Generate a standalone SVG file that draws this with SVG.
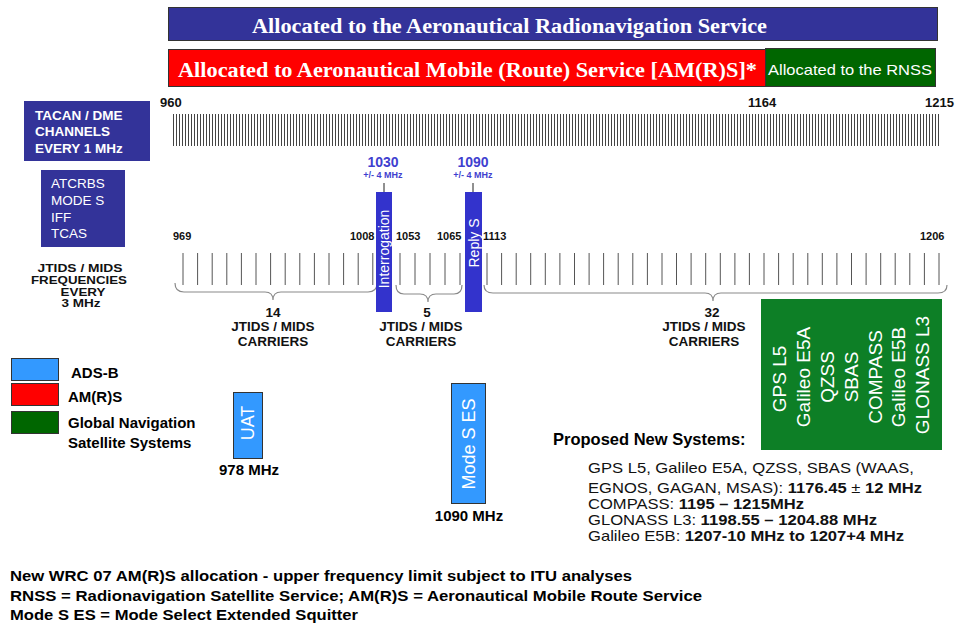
<svg xmlns="http://www.w3.org/2000/svg" width="956" height="627" viewBox="0 0 956 627">
<style>
text{font-family:"Liberation Sans",Arial,sans-serif;}
.serif{font-family:"Liberation Serif","Times New Roman",serif;font-weight:bold;font-size:20px;fill:#fff;}
.b{font-weight:bold;}
.wt{fill:#fff;}
.lbl{font-weight:bold;font-size:11px;fill:#111;}
.axis{font-weight:bold;font-size:13px;fill:#111;}
.jt{font-weight:bold;font-size:13.5px;fill:#111;text-anchor:middle;}
.jf{font-weight:bold;font-size:11.5px;fill:#111;text-anchor:middle;}
.brace{fill:none;stroke:#8a8a8a;stroke-width:1.2;}
.tick{stroke:#555;stroke-width:1;}
.bar{stroke:#333;stroke-width:1;}
.vert{fill:#fff;text-anchor:middle;dominant-baseline:central;}
.prop{font-size:15px;fill:#111;}
.foot{font-weight:bold;font-size:15px;fill:#000;}
</style>
<defs>
<pattern id="tp" patternUnits="userSpaceOnUse" x="173" y="114" width="3" height="32">
<rect x="0" y="0" width="1" height="32" fill="#444"/>
</pattern>
</defs>
<rect width="956" height="627" fill="#fff"/>

<g id="bar-arns">
<rect class="bar" x="168.5" y="7.5" width="769" height="33" fill="#333399"/>
<text class="serif" x="252" y="33" textLength="515" lengthAdjust="spacingAndGlyphs">Allocated to the Aeronautical Radionavigation Service</text>
</g>
<g id="bar-amrs">
<rect class="bar" x="168.5" y="49.5" width="597" height="37" fill="#ff0000"/>
<text class="serif" x="178" y="77" textLength="579" lengthAdjust="spacingAndGlyphs">Allocated to Aeronautical Mobile (Route) Service [AM(R)S]*</text>
</g>
<g id="bar-rnss">
<rect class="bar" x="765.5" y="48.5" width="170" height="38" fill="#006600"/>
<text x="768" y="75" font-size="14.5" fill="#fff" textLength="164" lengthAdjust="spacingAndGlyphs">Allocated to the RNSS</text>
</g>

<g id="top-axis">
<text class="axis" x="160" y="107">960</text>
<text class="axis" x="748" y="107">1164</text>
<text class="axis" x="925" y="107">1215</text>
<rect x="173" y="114" width="767" height="32" fill="url(#tp)"/>
</g>

<g id="tacan">
<rect x="24" y="101" width="126" height="60" fill="#333399"/>
<text class="b wt" font-size="13.5" x="35" y="120">TACAN / DME</text>
<text class="b wt" font-size="13.5" x="35" y="136">CHANNELS</text>
<text class="b wt" font-size="13.5" x="35" y="153">EVERY 1 MHz</text>
</g>

<g id="atcrbs">
<rect x="41" y="170" width="84" height="77" fill="#333399"/>
<text class="wt" font-size="13.5" x="51" y="188">ATCRBS</text>
<text class="wt" font-size="13.5" x="51" y="205">MODE S</text>
<text class="wt" font-size="13.5" x="51" y="222">IFF</text>
<text class="wt" font-size="13.5" x="51" y="238">TCAS</text>
</g>

<g id="jtids-freq">
<text class="jf" x="80" y="272" textLength="85" lengthAdjust="spacingAndGlyphs">JTIDS / MIDS</text>
<text class="jf" x="79" y="284" textLength="96" lengthAdjust="spacingAndGlyphs">FREQUENCIES</text>
<text class="jf" x="83" y="296" textLength="45" lengthAdjust="spacingAndGlyphs">EVERY</text>
<text class="jf" x="81" y="307" textLength="39" lengthAdjust="spacingAndGlyphs">3 MHz</text>
</g>

<g id="lower-axis">
<text class="lbl" x="173" y="240">969</text>
<text class="lbl" x="350" y="240">1008</text>
<text class="lbl" x="396" y="240">1053</text>
<text class="lbl" x="437" y="240">1065</text>
<text class="lbl" x="483" y="240">1113</text>
<text class="lbl" x="920" y="240">1206</text>
<path class="tick" d="M183 253v32M197.6 253v32M212.2 253v32M226.8 253v32M241.4 253v32M256 253v32M270.6 253v32M285.2 253v32M299.8 253v32M314.4 253v32M329 253v32M343.6 253v32M358.2 253v32M372.8 253v32
M400 253v32M415 253v32M430 253v32M445 253v32M460 253v32
M487 253v32M501.6 253v32M516.2 253v32M530.7 253v32M545.3 253v32M559.9 253v32M574.5 253v32M589.1 253v32M603.6 253v32M618.2 253v32M632.8 253v32M647.4 253v32M662 253v32M676.5 253v32M691.1 253v32M705.7 253v32M720.3 253v32M734.9 253v32M749.4 253v32M764 253v32M778.6 253v32M793.2 253v32M807.8 253v32M822.3 253v32M836.9 253v32M851.5 253v32M866.1 253v32M880.7 253v32M895.2 253v32M909.8 253v32M924.4 253v32M939 253v32"/>
</g>

<g id="connectors">
<path class="brace" d="M175 283Q175 292 184 292H265Q273 292 273 300Q273 292 281 292H368Q377 292 377 283"/>
<path class="brace" d="M396 285Q396 294 404 294H420Q428 294 428 302Q428 294 436 294H454Q462 294 462 285"/>
<path class="brace" d="M484 285Q484 293 493 293H705Q713 293 713 301Q713 293 721 293H938Q947 293 947 285"/>
<path d="M384 183V192M473 183V192" stroke="#222" stroke-width="1"/>
</g>

<g id="group14">
<text class="jt" x="273" y="317">14</text>
<text class="jt" x="273" y="331">JTIDS / MIDS</text>
<text class="jt" x="273" y="346">CARRIERS</text>
</g>
<g id="group5">
<text class="jt" x="427" y="317">5</text>
<text class="jt" x="421" y="331">JTIDS / MIDS</text>
<text class="jt" x="421" y="346">CARRIERS</text>
</g>
<g id="group32">
<text class="jt" x="712" y="317">32</text>
<text class="jt" x="704" y="331">JTIDS / MIDS</text>
<text class="jt" x="704" y="346">CARRIERS</text>
</g>

<g id="interrogation">
<text class="b" font-size="14" fill="#3f3fcf" text-anchor="middle" x="383" y="167">1030</text>
<text class="b" font-size="9" fill="#3f3fcf" text-anchor="middle" x="383" y="178">+/- 4 MHz</text>
<rect x="376" y="192" width="16" height="120" fill="#3333cc"/>
<text class="vert" font-size="14" transform="translate(384,249) rotate(-90)">Interrogation</text>
</g>

<g id="reply">
<text class="b" font-size="14" fill="#3f3fcf" text-anchor="middle" x="473" y="167">1090</text>
<text class="b" font-size="9" fill="#3f3fcf" text-anchor="middle" x="473" y="178">+/- 4 MHz</text>
<rect x="465" y="192" width="17" height="120" fill="#3333cc"/>
<text class="vert" font-size="14" transform="translate(473.5,243) rotate(-90)">Reply S</text>
</g>

<g id="gnss-box">
<rect x="761" y="299" width="181" height="151" fill="#0d7f26"/>
<text class="vert" font-size="19" transform="translate(779,379) rotate(-90)">GPS L5</text>
<text class="vert" font-size="19" transform="translate(803,377) rotate(-90)">Galileo E5A</text>
<text class="vert" font-size="19" transform="translate(827,377) rotate(-90)">QZSS</text>
<text class="vert" font-size="19" transform="translate(851,377) rotate(-90)">SBAS</text>
<text class="vert" font-size="19" transform="translate(875,377) rotate(-90)">COMPASS</text>
<text class="vert" font-size="19" transform="translate(898,377) rotate(-90)">Galileo E5B</text>
<text class="vert" font-size="19" transform="translate(922,375) rotate(-90)">GLONASS L3</text>
</g>

<g id="legend">
<rect class="bar" x="11.5" y="358.5" width="47" height="22" fill="#3399ff"/>
<rect class="bar" x="11.5" y="383.5" width="47" height="22" fill="#ff0000"/>
<rect class="bar" x="11.5" y="411.5" width="47" height="22" fill="#006600"/>
<text class="b" font-size="15" x="71" y="378">ADS-B</text>
<text class="b" font-size="15" x="68" y="402">AM(R)S</text>
<text class="b" font-size="15" x="68" y="428">Global Navigation</text>
<text class="b" font-size="15" x="68" y="448">Satellite Systems</text>
</g>

<g id="uat">
<rect class="bar" x="233.5" y="392.5" width="29" height="66" fill="#3399ff"/>
<text class="vert" font-size="18" transform="translate(248,423) rotate(-90)">UAT</text>
<text class="b" font-size="15" text-anchor="middle" x="249" y="475">978 MHz</text>
</g>

<g id="modes-es">
<rect class="bar" x="451.5" y="383.5" width="34" height="120" fill="#3399ff"/>
<text class="vert" font-size="18" transform="translate(468.5,444) rotate(-90)">Mode S ES</text>
<text class="b" font-size="15" text-anchor="middle" x="469" y="521">1090 MHz</text>
</g>

<g id="proposed">
<text class="b" font-size="16.5" x="553" y="445">Proposed New Systems:</text>
<text class="prop" x="588" y="473" textLength="326" lengthAdjust="spacingAndGlyphs">GPS L5, Galileo E5A, QZSS, SBAS (WAAS,</text>
<text class="prop" x="588" y="493" textLength="334" lengthAdjust="spacingAndGlyphs">EGNOS, GAGAN, MSAS): <tspan font-weight="bold">1176.45</tspan> ± <tspan font-weight="bold">12 MHz</tspan></text>
<text class="prop" x="588" y="509" textLength="216" lengthAdjust="spacingAndGlyphs">COMPASS: <tspan font-weight="bold">1195 – 1215MHz</tspan></text>
<text class="prop" x="588" y="525" textLength="289" lengthAdjust="spacingAndGlyphs">GLONASS L3: <tspan font-weight="bold">1198.55 – 1204.88 MHz</tspan></text>
<text class="prop" x="588" y="541" textLength="316" lengthAdjust="spacingAndGlyphs">Galileo E5B: <tspan font-weight="bold">1207-10 MHz to 1207+4 MHz</tspan></text>
</g>

<g id="footnotes">
<text class="foot" x="10" y="581" textLength="622" lengthAdjust="spacingAndGlyphs">New WRC 07 AM(R)S allocation - upper frequency limit subject to ITU analyses</text>
<text class="foot" x="10" y="601" textLength="692" lengthAdjust="spacingAndGlyphs">RNSS = Radionavigation Satellite Service; AM(R)S = Aeronautical Mobile Route Service</text>
<text class="foot" x="10" y="620" textLength="348" lengthAdjust="spacingAndGlyphs">Mode S ES = Mode Select Extended Squitter</text>
</g>
</svg>
